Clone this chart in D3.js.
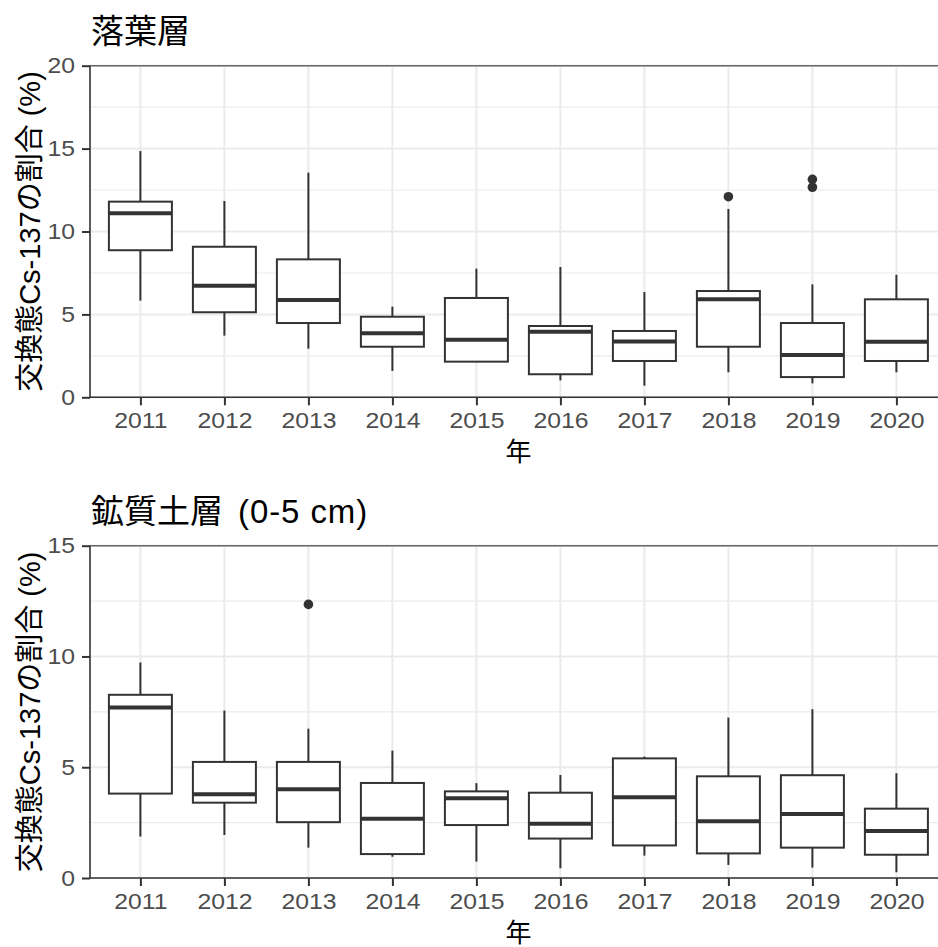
<!DOCTYPE html>
<html>
<head>
<meta charset="utf-8">
<script src="https://cdn.jsdelivr.net/npm/d3@7"></script>
<style>
  html, body { margin: 0; padding: 0; background: #fff; }
  svg { display: block; font-family: "Liberation Sans", Arial, "Noto Sans CJK JP", sans-serif; }
</style>
</head>
<body>
<svg id="chart" width="938" height="947"></svg>
<script>
// Years on the x axis
const years = ["2011", "2012", "2013", "2014", "2015", "2016", "2017", "2018", "2019", "2020"];

// Litter layer (落葉層): box-plot statistics per year (%)
const litterLow    = [5.83, 3.72, 2.93, 1.59, 2.15, 1.02, 0.70, 1.51, 0.84, 1.51];
const litterQ1     = [8.87, 5.13, 4.48, 3.05, 2.15, 1.39, 2.19, 3.05, 1.22, 2.19];
const litterMedian = [11.10, 6.73, 5.87, 3.86, 3.47, 3.96, 3.36, 5.91, 2.55, 3.35];
const litterQ3     = [11.80, 9.08, 8.32, 4.86, 5.99, 4.30, 4.00, 6.41, 4.48, 5.91];
const litterHigh   = [14.85, 11.84, 13.55, 5.47, 7.76, 7.86, 6.35, 11.36, 6.81, 7.39];
const litterOutlierYears  = ["2018", "2019", "2019"];
const litterOutlierValues = [12.10, 13.15, 12.67];

// Mineral soil layer 0-5 cm (鉱質土層): box-plot statistics per year (%)
const soilLow    = [1.87, 1.94, 1.37, 0.96, 0.74, 0.44, 1.01, 0.59, 0.47, 0.26];
const soilQ1     = [3.81, 3.40, 2.52, 1.08, 2.39, 1.78, 1.47, 1.11, 1.37, 1.05];
const soilMedian = [7.70, 3.78, 4.01, 2.68, 3.60, 2.45, 3.64, 2.56, 2.89, 2.12];
const soilQ3     = [8.27, 5.24, 5.24, 4.29, 3.91, 3.85, 5.40, 4.59, 4.64, 3.13];
const soilHigh   = [9.73, 7.56, 6.74, 5.75, 4.28, 4.65, 5.48, 7.24, 7.62, 4.73];
const soilOutlierYears  = ["2013"];
const soilOutlierValues = [12.35];

// Axis ticks
const litterTicks = [0, 5, 10, 15, 20];
const litterMinor = [2.5, 7.5, 12.5, 17.5];
const soilTicks = [0, 5, 10, 15];
const soilMinor = [2.5, 7.5, 12.5];

const yTitle = "交換態Cs-137の割合 (%)";
const xTitle = "年";

const svg = d3.select("#chart");
const STRETCH = 1.1;   // slightly wide tick lettering

function drawPanel(cfg) {
  const { top, bottom, left, right, titleCjk, titleLatin, domainMax, ticks, minor,
          low, q1, med, q3, high, outYears, outValues } = cfg;

  const x = d3.scalePoint().domain(years).range([left, right]).padding(0.6);
  const y = d3.scaleLinear().domain([0, domainMax]).range([bottom, top]);
  const boxW = x.step() * 0.75;

  const g = svg.append("g");

  // minor grid
  g.selectAll(".gminor").data(minor).join("line")
    .attr("x1", left).attr("x2", right)
    .attr("y1", d => y(d)).attr("y2", d => y(d))
    .attr("stroke", "#EBEBEB").attr("stroke-width", 1.1);
  // major grid
  g.selectAll(".gmajy").data(ticks).join("line")
    .attr("x1", left).attr("x2", right)
    .attr("y1", d => y(d)).attr("y2", d => y(d))
    .attr("stroke", "#EBEBEB").attr("stroke-width", 2);
  g.selectAll(".gmajx").data(years).join("line")
    .attr("x1", d => x(d)).attr("x2", d => x(d))
    .attr("y1", top).attr("y2", bottom)
    .attr("stroke", "#EBEBEB").attr("stroke-width", 2);

  const stats = years.map((yr, i) => ({ yr, low: low[i], q1: q1[i], med: med[i], q3: q3[i], high: high[i] }));
  const boxes = g.selectAll(".box").data(stats).join("g");

  // whiskers
  boxes.append("line")
    .attr("x1", d => x(d.yr)).attr("x2", d => x(d.yr))
    .attr("y1", d => y(d.q3)).attr("y2", d => y(d.high))
    .attr("stroke", "#333333").attr("stroke-width", 2);
  boxes.append("line")
    .attr("x1", d => x(d.yr)).attr("x2", d => x(d.yr))
    .attr("y1", d => y(d.q1)).attr("y2", d => y(d.low))
    .attr("stroke", "#333333").attr("stroke-width", 2);
  // box
  boxes.append("rect")
    .attr("x", d => x(d.yr) - boxW / 2).attr("width", boxW)
    .attr("y", d => y(d.q3)).attr("height", d => y(d.q1) - y(d.q3))
    .attr("fill", "#FFFFFF").attr("stroke", "#333333").attr("stroke-width", 2);
  // median
  boxes.append("line")
    .attr("x1", d => x(d.yr) - boxW / 2).attr("x2", d => x(d.yr) + boxW / 2)
    .attr("y1", d => y(d.med)).attr("y2", d => y(d.med))
    .attr("stroke", "#333333").attr("stroke-width", 4);

  // outliers
  g.selectAll(".out").data(outYears.map((yr, i) => ({ yr, v: outValues[i] }))).join("circle")
    .attr("cx", d => x(d.yr)).attr("cy", d => y(d.v)).attr("r", 4.8)
    .attr("fill", "#333333");

  // panel top border
  g.append("line").attr("x1", left).attr("x2", right).attr("y1", top).attr("y2", top)
    .attr("stroke", "#666666").attr("stroke-width", 1.5);

  // y axis
  const yAxis = g.append("g").attr("transform", `translate(${left},0)`)
    .call(d3.axisLeft(y).tickValues(ticks).tickFormat(d3.format("d")).tickSize(8).tickPadding(7));
  // x axis
  const xAxis = g.append("g").attr("transform", `translate(0,${bottom})`)
    .call(d3.axisBottom(x).tickSize(8).tickPadding(7));
  [yAxis, xAxis].forEach(a => {
    a.select(".domain").attr("stroke", "#333333").attr("stroke-width", 1.6);
    a.selectAll(".tick line").attr("stroke", "#333333").attr("stroke-width", 2);
    a.selectAll(".tick text").attr("fill", "#4D4D4D").style("font-size", "22.5px")
      .style("font-family", "'Liberation Sans', Arial, sans-serif");
  });
  xAxis.selectAll(".tick text").attr("transform", `scale(${STRETCH},1)`);
  yAxis.selectAll(".tick text").attr("x", -15 / STRETCH).attr("transform", `scale(${STRETCH},1)`);
  yAxis.select(".domain").attr("d", `M0,${bottom}V${top}`);
  xAxis.select(".domain").attr("d", `M${left},0H${right}`);

  // panel title
  const t = g.append("text").attr("x", left + 1).attr("y", top - 23)
    .attr("fill", "#000").style("font-size", "33px");
  t.append("tspan").text(titleCjk);
  if (titleLatin) t.append("tspan").attr("dx", 5).style("letter-spacing", "0.9px").text(titleLatin);

  // axis titles
  g.append("text").attr("x", (left + right) / 2).attr("y", bottom + 64)
    .attr("text-anchor", "middle").attr("fill", "#000").style("font-size", "26px").text(xTitle);
  g.append("text")
    .attr("transform", `translate(40,${(top + bottom) / 2}) rotate(-90)`)
    .attr("text-anchor", "middle").attr("fill", "#000").style("font-size", "29px").text(yTitle);
}

drawPanel({
  top: 65.7, bottom: 397.3, left: 90, right: 946.8, titleCjk: "落葉層", titleLatin: "",
  domainMax: 20, ticks: litterTicks, minor: litterMinor,
  low: litterLow, q1: litterQ1, med: litterMedian, q3: litterQ3, high: litterHigh,
  outYears: litterOutlierYears, outValues: litterOutlierValues
});

drawPanel({
  top: 545.7, bottom: 878, left: 90, right: 946.8, titleCjk: "鉱質土層", titleLatin: " (0-5 cm)",
  domainMax: 15, ticks: soilTicks, minor: soilMinor,
  low: soilLow, q1: soilQ1, med: soilMedian, q3: soilQ3, high: soilHigh,
  outYears: soilOutlierYears, outValues: soilOutlierValues
});
</script>
</body>
</html>
